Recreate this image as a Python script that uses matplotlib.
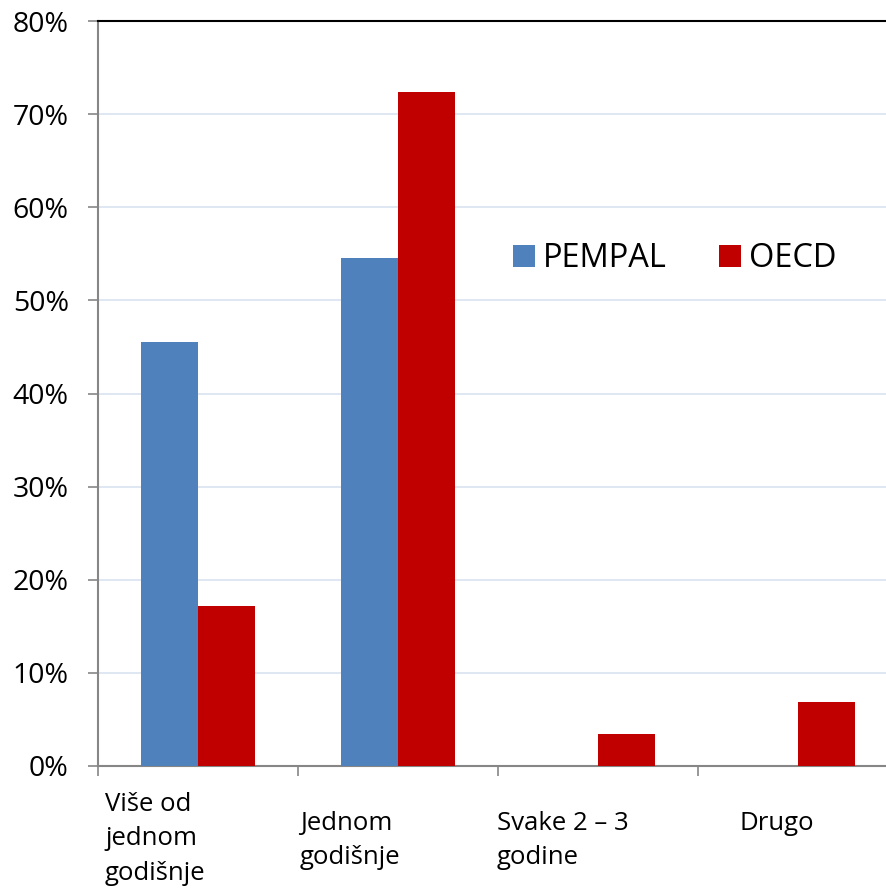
import matplotlib
matplotlib.use("Agg")
import matplotlib.pyplot as plt
import matplotlib.transforms as mtransforms
from matplotlib.patches import Patch
from matplotlib.ticker import PercentFormatter

categories = ["Više od\njednom\ngodišnje", "Jednom\ngodišnje", "Svake 2 – 3\ngodine", "Drugo"]
pempal = [45.5, 54.5, 0.0, 0.0]
oecd = [17.2, 72.4, 3.4, 6.9]
series_names = ["PEMPAL", "OECD"]

BLUE = "#4F81BD"
RED = "#C00000"
GRID = "#D9E3F0"
AXIS = "#868686"

plt.rcParams["font.family"] = ["Open Sans", "DejaVu Sans"]

fig = plt.figure(figsize=(8.87, 8.90), dpi=100)
ax = fig.add_axes([98 / 887, 124 / 890, 1 - 98 / 887, 745 / 890])

x = list(range(len(categories)))
w = 0.285
ax.bar([i - w / 2 for i in x], pempal, width=w, color=BLUE, zorder=3)
ax.bar([i + w / 2 for i in x], oecd, width=w, color=RED, zorder=3)

ax.set_xlim(-0.5, -0.5 + 789 / 200)
ax.set_ylim(0, 80)
ax.set_yticks(range(0, 81, 10))
ax.yaxis.set_major_formatter(PercentFormatter(decimals=0))
ax.yaxis.grid(True, color=GRID, lw=1.2, zorder=0)
ax.tick_params(axis="y", length=7, width=1.2, color=AXIS, labelsize=20.5, pad=14)
ax.set_xticks([i - 0.5 for i in x])
ax.set_xticklabels([])
ax.tick_params(axis="x", length=7, width=1.2, color=AXIS)

for s in ("left", "bottom"):
    ax.spines[s].set_color(AXIS)
    ax.spines[s].set_linewidth(1.5)
ax.spines["top"].set_color("black")
ax.spines["top"].set_linewidth(1.5)
ax.spines["right"].set_visible(False)

# category labels placed like the original (left aligned, wrapped)
trans = mtransforms.blended_transform_factory(ax.transData, fig.transFigure)
label_x = [-0.465, 0.51, 1.495, 2.71]
label_top = [792, 811, 811, 811]
for lx, ly, txt in zip(label_x, label_top, categories):
    ax.text(lx, 1 - ly / 890, txt, transform=trans, ha="left", va="top",
            fontsize=18.5, linespacing=1.49)

handles = [Patch(facecolor=BLUE), Patch(facecolor=RED)]
ax.legend(handles, series_names, loc="center", bbox_to_anchor=(0.731, 0.681),
          ncol=2, frameon=False, fontsize=23.5, handlelength=0.68, handleheight=0.68,
          handletextpad=0.25, columnspacing=1.6)

fig.savefig("out.png", dpi=100)
